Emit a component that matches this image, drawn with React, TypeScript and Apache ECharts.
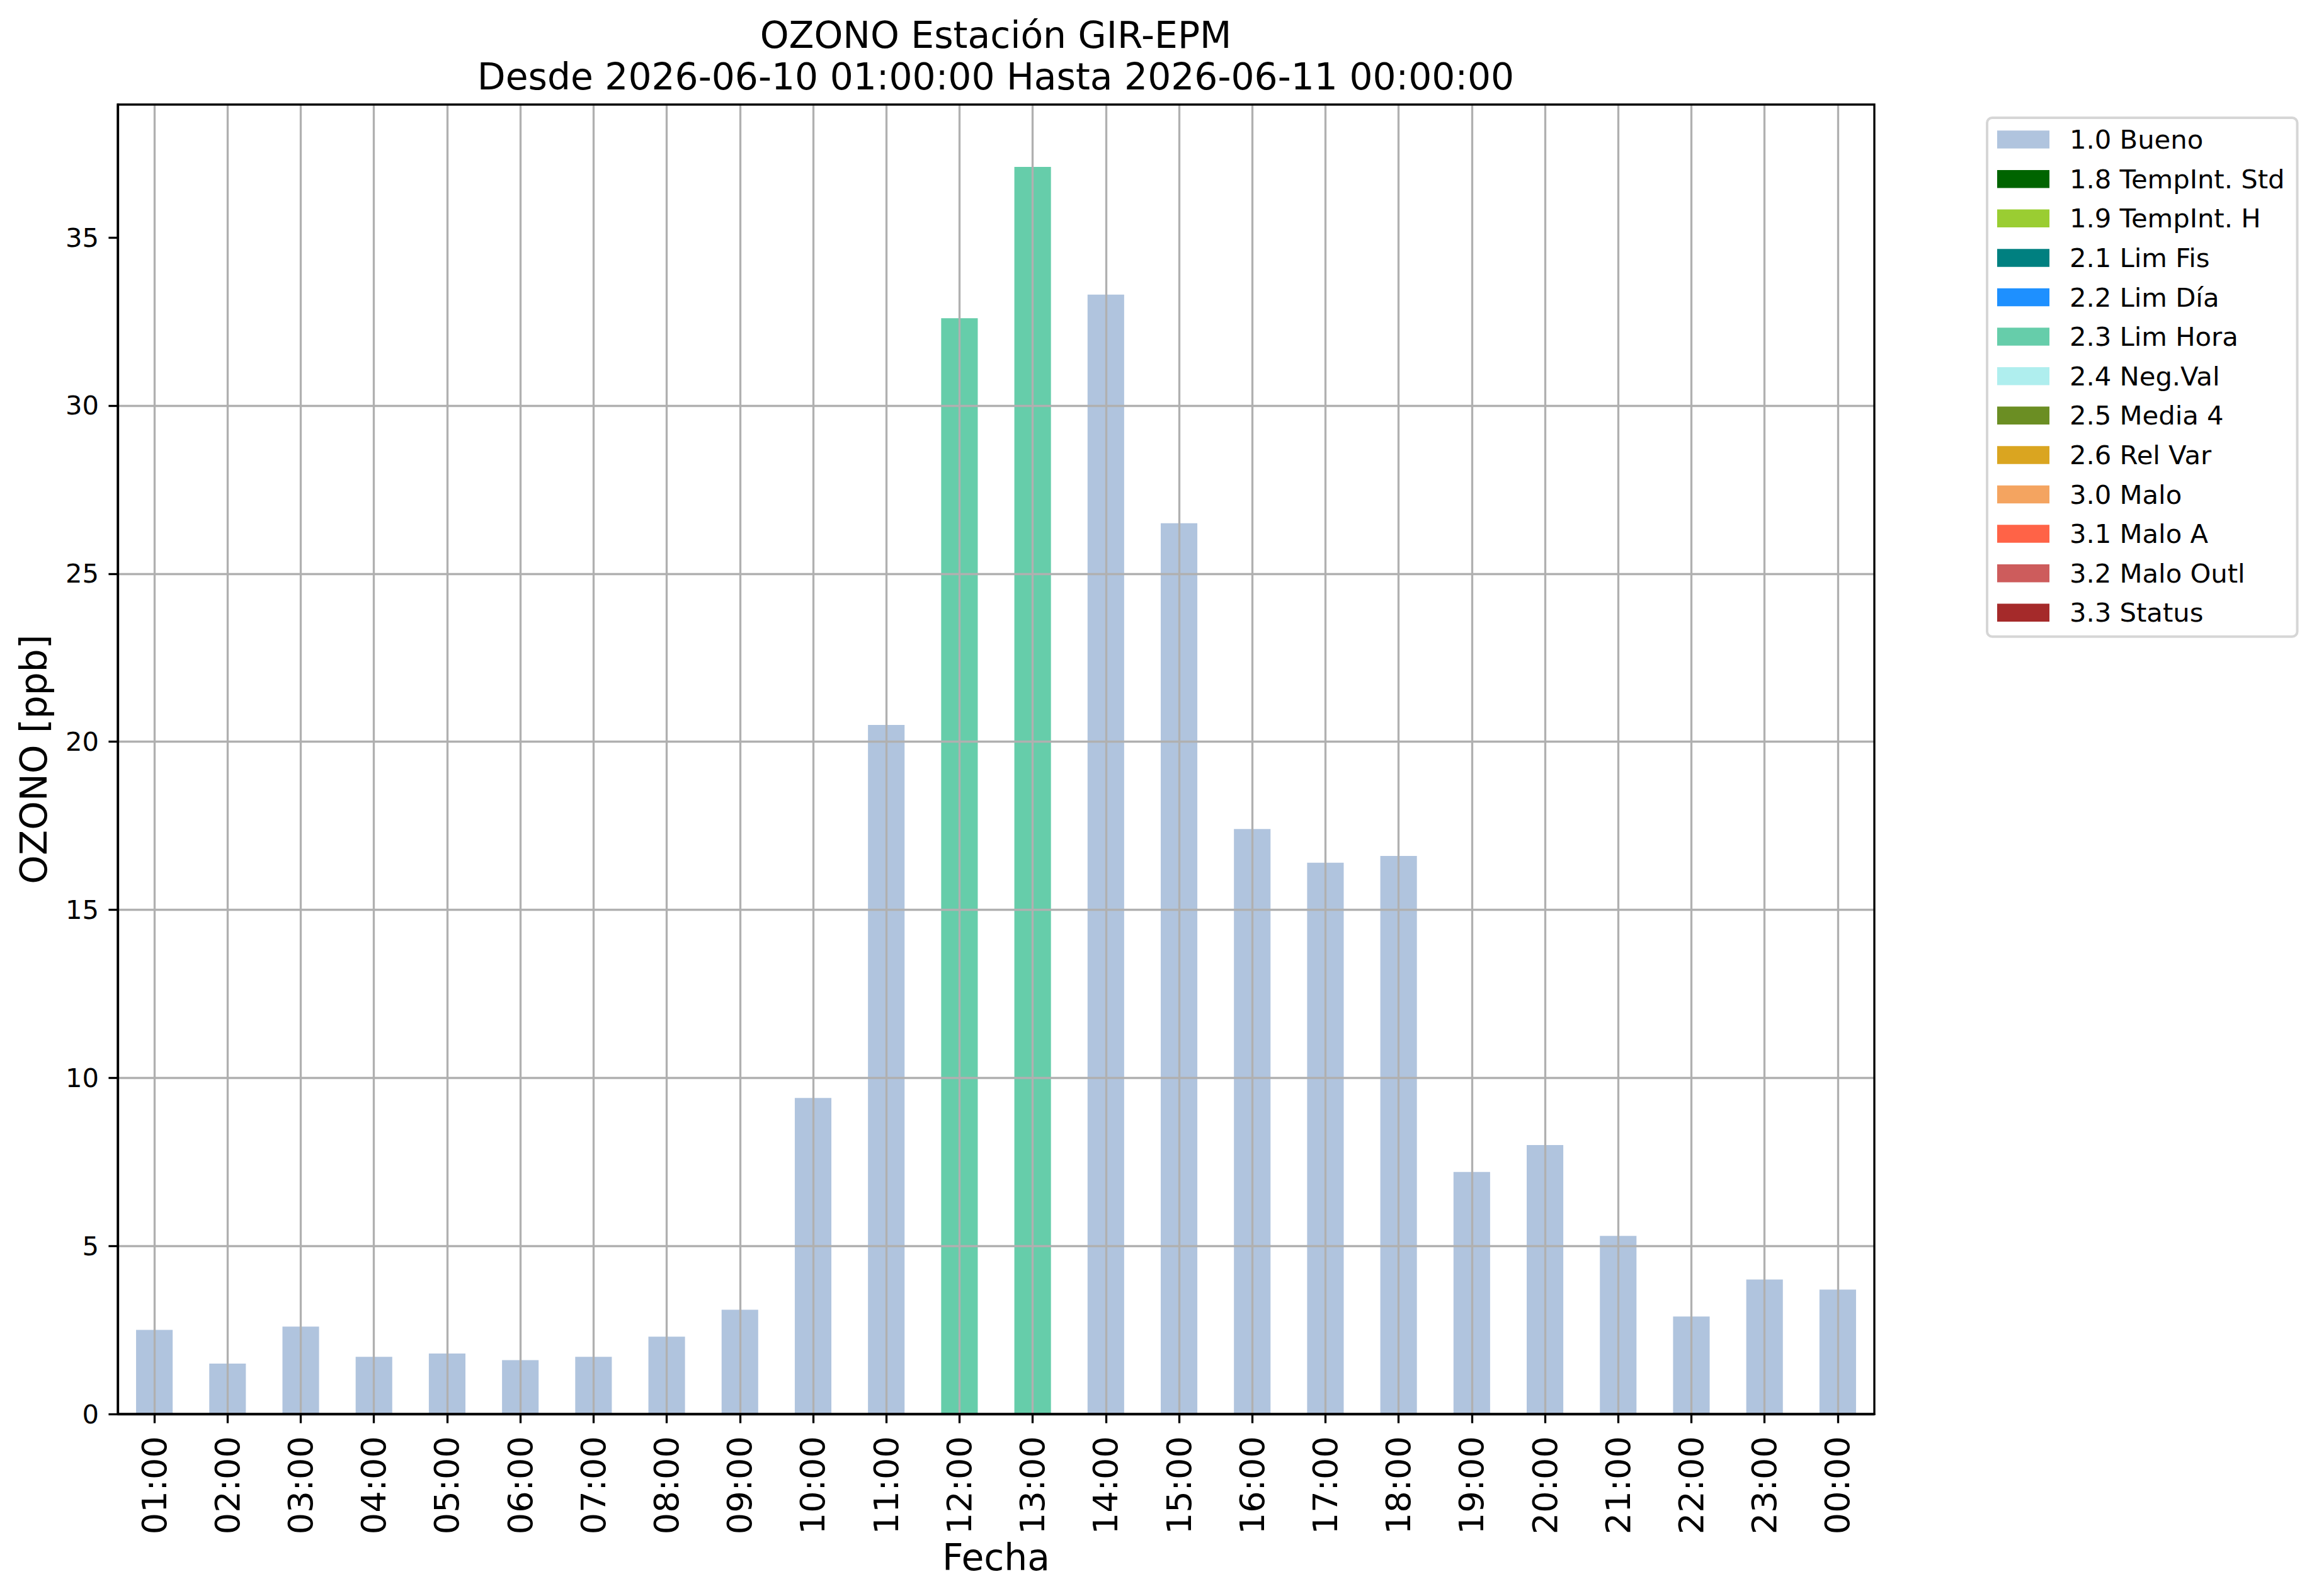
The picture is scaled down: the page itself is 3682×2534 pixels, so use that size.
import React, { useEffect, useRef } from "react";
import * as echarts from "echarts";

const categories = [
  "01:00", "02:00", "03:00", "04:00", "05:00", "06:00", "07:00", "08:00",
  "09:00", "10:00", "11:00", "12:00", "13:00", "14:00", "15:00", "16:00",
  "17:00", "18:00", "19:00", "20:00", "21:00", "22:00", "23:00", "00:00",
];

const buenoValues = [
  2.5, 1.5, 2.6, 1.7, 1.8, 1.6, 1.7, 2.3, 3.1, 9.4, 20.5, null,
  null, 33.3, 26.5, 17.4, 16.4, 16.6, 7.2, 8.0, 5.3, 2.9, 4.0, 3.7,
];

const limHoraValues = [
  null, null, null, null, null, null, null, null, null, null, null, 32.6,
  37.1, null, null, null, null, null, null, null, null, null, null, null,
];

const flagNames = [
  "1.0 Bueno", "1.8 TempInt. Std", "1.9 TempInt. H", "2.1 Lim Fis",
  "2.2 Lim Día", "2.3 Lim Hora", "2.4 Neg.Val", "2.5 Media 4",
  "2.6 Rel Var", "3.0 Malo", "3.1 Malo A", "3.2 Malo Outl", "3.3 Status",
];

const flagColors = [
  "#B0C4DE", "#006400", "#9ACD32", "#008080", "#1E90FF", "#66CDAA",
  "#AFEEEE", "#6B8E23", "#DAA520", "#F4A460", "#FF6347", "#CD5C5C", "#A52A2A",
];

const yTicks = [0, 5, 10, 15, 20, 25, 30, 35];

const titleLine1 = "OZONO Estación GIR-EPM";
const titleLine2 = "Desde 2026-06-10 01:00:00 Hasta 2026-06-11 00:00:00";
const xAxisTitle = "Fecha";
const yAxisTitle = "OZONO [ppb]";

const FONT = "DejaVu Sans";

export default function App() {
  const ref = useRef<HTMLDivElement>(null);

  useEffect(() => {
    document.body.style.margin = "0";
    if (!ref.current) return;
    const chart = echarts.init(ref.current, null, { renderer: "svg" });

    const dataByName: Record<string, (number | null)[]> = {
      "1.0 Bueno": buenoValues,
      "2.3 Lim Hora": limHoraValues,
    };

    const totals = categories.map((_, i) =>
      flagNames.reduce((s, n) => s + ((dataByName[n] || [])[i] || 0), 0)
    );
    const yMax = Math.max(...totals) * 1.05;

    const series: any[] = flagNames.map((name, i) => ({
      name,
      type: "bar",
      stack: "flags",
      barWidth: "50%",
      data: dataByName[name] || [],
      itemStyle: { color: flagColors[i] },
      emphasis: { disabled: true },
    }));

    series[0].markLine = {
      silent: true,
      symbol: ["none", "none"],
      label: { show: false },
      z: 5,
      lineStyle: { color: "#b0b0b0", width: 3.33, type: "solid" },
      emphasis: { disabled: true },
      data: categories.map((c) => ({ xAxis: c })),
    };

    const option: any = {
      animation: false,
      backgroundColor: "#ffffff",
      grid: {
        left: 187,
        top: 166,
        width: 2789,
        height: 2079,
        show: true,
        z: 10,
        backgroundColor: "transparent",
        borderColor: "#000000",
        borderWidth: 3.33,
        containLabel: false,
      },
      graphic: [
        {
          type: "text",
          x: 1581,
          y: 56,
          z: 20,
          style: {
            text: titleLine1,
            fill: "#000",
            fontSize: 58.3,
            fontFamily: FONT,
            align: "center",
            verticalAlign: "middle",
            textAlign: "center",
            textVerticalAlign: "middle",
          },
        },
        {
          type: "text",
          x: 1581,
          y: 122,
          z: 20,
          style: {
            text: titleLine2,
            fill: "#000",
            fontSize: 58.3,
            fontFamily: FONT,
            align: "center",
            verticalAlign: "middle",
            textAlign: "center",
            textVerticalAlign: "middle",
          },
        },
      ],
      legend: {
        data: flagNames,
        orient: "vertical",
        left: 3155,
        top: 187,
        icon: "rect",
        itemWidth: 83,
        itemHeight: 28.5,
        itemGap: 20.6,
        padding: [13.6, 20, 17, 16],
        backgroundColor: "#ffffff",
        borderColor: "#d6d6d6",
        borderWidth: 4,
        borderRadius: 8,
        selectedMode: false,
        textStyle: {
          fontSize: 41.7,
          lineHeight: 41.7,
          fontFamily: FONT,
          color: "#000",
          padding: [0, 0, 0, 27],
        },
      },
      xAxis: {
        type: "category",
        data: categories,
        boundaryGap: true,
        z: 5,
        name: xAxisTitle,
        nameLocation: "middle",
        nameGap: 198,
        nameTextStyle: { fontSize: 58.3, fontFamily: FONT, color: "#000" },
        axisLine: { show: true, lineStyle: { color: "#000", width: 3.33 } },
        axisTick: {
          show: true,
          alignWithLabel: true,
          inside: false,
          length: 14.6,
          lineStyle: { color: "#000", width: 3.33 },
        },
        axisLabel: {
          interval: 0,
          rotate: 90,
          margin: 35,
          fontSize: 54.2,
          fontFamily: FONT,
          color: "#000",
        },
        splitLine: { show: false },
      },
      yAxis: {
        type: "value",
        min: 0,
        max: yMax,
        interval: 5,
        z: 5,
        name: yAxisTitle,
        nameLocation: "middle",
        nameGap: 104,
        nameRotate: 90,
        nameTextStyle: { fontSize: 58.3, fontFamily: FONT, color: "#000" },
        axisLine: { show: true, lineStyle: { color: "#000", width: 3.33 } },
        axisTick: {
          show: true,
          inside: false,
          length: 14.6,
          customValues: yTicks,
          lineStyle: { color: "#000", width: 3.33 },
        },
        axisLabel: {
          customValues: yTicks,
          margin: 30,
          fontSize: 41.7,
          fontFamily: FONT,
          color: "#000",
        },
        splitLine: {
          show: true,
          showMaxLine: false,
          lineStyle: { color: "#b0b0b0", width: 3.33 },
        },
      },
      series,
    };

    chart.setOption(option);
    return () => chart.dispose();
  }, []);

  return <div ref={ref} style={{ width: 3682, height: 2534 }} />;
}
